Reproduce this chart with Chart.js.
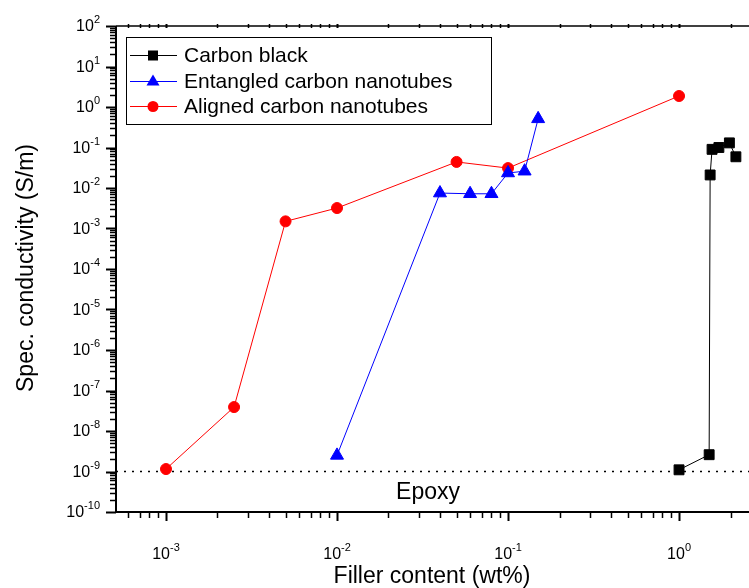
<!DOCTYPE html>
<html>
<head>
<meta charset="utf-8">
<script src="https://cdn.jsdelivr.net/npm/chart.js@4.4.1/dist/chart.umd.min.js"></script>
<style>
  html, body { margin: 0; padding: 0; background: #fff; }
  canvas { display: block; }
</style>
</head>
<body>
<canvas id="myChart" width="749" height="588"></canvas>
<script>
// series values
const seriesNames = ['Carbon black', 'Entangled carbon nanotubes', 'Aligned carbon nanotubes'];

const carbonBlackX = [1, 1.5, 1.52, 1.56, 1.71, 1.97, 2.15];
const carbonBlackY = [1.1e-9, 2.6e-9, 0.021, 0.09, 0.1, 0.13, 0.059];

const entangledX = [0.01, 0.04, 0.06, 0.08, 0.1, 0.125, 0.15];
const entangledY = [2.5e-9, 7.5e-3, 7.2e-3, 7.2e-3, 0.0235, 0.026, 0.51];

const alignedX = [0.001, 0.0025, 0.005, 0.01, 0.05, 0.1, 1];
const alignedY = [1.15e-9, 3.9e-8, 1.5e-3, 3.2e-3, 0.044, 0.031, 1.87];

const epoxyLevel = 1e-9;

// tick decades (exponents)
const xDecades = [-3, -2, -1, 0];
const yDecades = [-10, -9, -8, -7, -6, -5, -4, -3, -2, -1, 0, 1, 2];

const xMin = 5.1e-4, xMax = 2.565;
const yMin = 1e-10, yMax = 1e2;

const FONT = '"Liberation Sans", Arial, sans-serif';

function toPoints(xs, ys) {
    return xs.map((x, i) => ({ x: x, y: ys[i] }));
}

function drawPow(ctx, exp, x, y, align) {
    ctx.font = '16px ' + FONT;
    const wb = ctx.measureText('10').width;
    ctx.font = '11px ' + FONT;
    const ws = ctx.measureText(String(exp)).width;
    const total = wb + ws;
    let start = x;
    if (align === 'right') start = x - total;
    if (align === 'center') start = x - total / 2;
    ctx.textAlign = 'left';
    ctx.textBaseline = 'middle';
    ctx.font = '16px ' + FONT;
    ctx.fillText('10', start, y);
    ctx.font = '11px ' + FONT;
    ctx.fillText(String(exp), start + wb, y - 7);
}

const axesPlugin = {
    id: 'axesPlugin',
    afterDatasetsDraw(chart) {
        const ctx = chart.ctx;
        const xs = chart.scales.x, ys = chart.scales.y;
        const a = chart.chartArea;
        ctx.save();
        ctx.strokeStyle = '#000';
        ctx.fillStyle = '#000';

        // axis lines
        ctx.lineWidth = 2;
        ctx.beginPath();
        ctx.moveTo(a.left, a.bottom);
        ctx.lineTo(a.left, a.top);
        ctx.moveTo(a.left - 1, a.bottom);
        ctx.lineTo(a.right, a.bottom);
        ctx.stroke();
        ctx.lineWidth = 1.5;
        ctx.beginPath();
        ctx.moveTo(a.left, a.top);
        ctx.lineTo(a.right, a.top);
        ctx.stroke();

        // y ticks
        yDecades.forEach(d => {
            for (let m = 1; m <= 9; m++) {
                const v = m * Math.pow(10, d);
                if (v < yMin * 0.999 || v > yMax * 1.001) continue;
                const py = Math.round(ys.getPixelForValue(v)) + 0.5;
                ctx.lineWidth = m === 1 ? 2 : 1.5;
                ctx.beginPath();
                ctx.moveTo(a.left, py);
                ctx.lineTo(a.left - (m === 1 ? 10 : 6), py);
                ctx.stroke();
            }
            drawPow(ctx, d, 100, ys.getPixelForValue(Math.pow(10, d)) + 1, 'right');
        });

        // x ticks (bottom and top)
        for (let d = -4; d <= 0; d++) {
            for (let m = 1; m <= 9; m++) {
                const v = m * Math.pow(10, d);
                if (v < xMin || v > xMax) continue;
                const px = Math.round(xs.getPixelForValue(v)) + 0.5;
                ctx.lineWidth = m === 1 ? 2 : 1.5;
                ctx.beginPath();
                ctx.moveTo(px, a.bottom);
                ctx.lineTo(px, a.bottom + (m === 1 ? 9 : 6));
                ctx.moveTo(px, a.top - 2);
                ctx.lineTo(px, a.top + 2);
                ctx.stroke();
            }
        }
        xDecades.forEach(d => {
            drawPow(ctx, d, xs.getPixelForValue(Math.pow(10, d)), 555, 'center');
        });

        // epoxy label
        ctx.font = '23px ' + FONT;
        ctx.textAlign = 'center';
        ctx.textBaseline = 'middle';
        ctx.fillText('Epoxy', 428, 493);

        // axis titles
        ctx.font = '23px ' + FONT;
        ctx.fillText('Filler content (wt%)', 432, 577);
        ctx.save();
        ctx.translate(27, 268);
        ctx.rotate(-Math.PI / 2);
        ctx.fillText('Spec. conductivity (S/m)', 0, 0);
        ctx.restore();

        // legend box
        ctx.lineWidth = 1;
        ctx.fillStyle = '#fff';
        ctx.fillRect(126.5, 37.5, 365, 87);
        ctx.strokeRect(126.5, 37.5, 365, 87);
        const rows = [55, 81, 106];
        chart.data.datasets.slice(0, 3).forEach((ds, i) => {
            const y = rows[i];
            ctx.strokeStyle = ds.borderColor;
            ctx.lineWidth = 1;
            ctx.beginPath();
            ctx.moveTo(130, y + 0.5);
            ctx.lineTo(177, y + 0.5);
            ctx.stroke();
            ctx.fillStyle = ds.backgroundColor;
            ctx.beginPath();
            if (ds.pointStyle === 'rect') {
                ctx.fillRect(148, y - 4.5, 10, 10);
            } else if (ds.pointStyle === 'triangle') {
                ctx.moveTo(153, y - 6.5);
                ctx.lineTo(159.5, y + 4.5);
                ctx.lineTo(146.5, y + 4.5);
                ctx.closePath();
                ctx.fill();
            } else {
                ctx.arc(153, y + 0.5, 5.5, 0, Math.PI * 2);
                ctx.fill();
            }
            ctx.fillStyle = '#000';
            ctx.font = '21px ' + FONT;
            ctx.textAlign = 'left';
            ctx.textBaseline = 'middle';
            ctx.fillText(seriesNames[i], 184, y + 1);
        });

        ctx.restore();
    }
};

const ctx = document.getElementById('myChart').getContext('2d');
const myChart = new Chart(ctx, {
    type: 'scatter',
    data: {
        datasets: [{
            label: seriesNames[0],
            data: toPoints(carbonBlackX, carbonBlackY),
            showLine: true,
            borderColor: '#000000',
            backgroundColor: '#000000',
            borderWidth: 1,
            pointStyle: 'rect',
            pointRadius: 7,
            clip: false
        }, {
            label: seriesNames[1],
            data: toPoints(entangledX, entangledY),
            showLine: true,
            borderColor: '#0000ff',
            backgroundColor: '#0000ff',
            borderWidth: 1,
            pointStyle: 'triangle',
            pointRadius: 7.5,
            clip: false
        }, {
            label: seriesNames[2],
            data: toPoints(alignedX, alignedY),
            showLine: true,
            borderColor: '#ff0000',
            backgroundColor: '#ff0000',
            borderWidth: 1,
            pointStyle: 'circle',
            pointRadius: 5.5,
            clip: false
        }, {
            label: 'Epoxy',
            data: [{ x: xMin, y: epoxyLevel }, { x: xMax, y: epoxyLevel }],
            showLine: true,
            borderColor: '#000000',
            borderWidth: 1.5,
            borderDash: [2, 6],
            pointRadius: 0,
            order: 5
        }]
    },
    options: {
        responsive: false,
        animation: false,
        devicePixelRatio: 1,
        layout: { autoPadding: false, padding: { left: 116, top: 26, right: 0, bottom: 76 } },
        plugins: { legend: { display: false }, tooltip: { enabled: false } },
        scales: {
            x: { type: 'logarithmic', min: xMin, max: xMax, display: false },
            y: { type: 'logarithmic', min: yMin, max: yMax, display: false }
        }
    },
    plugins: [axesPlugin]
});
</script>
</body>
</html>
